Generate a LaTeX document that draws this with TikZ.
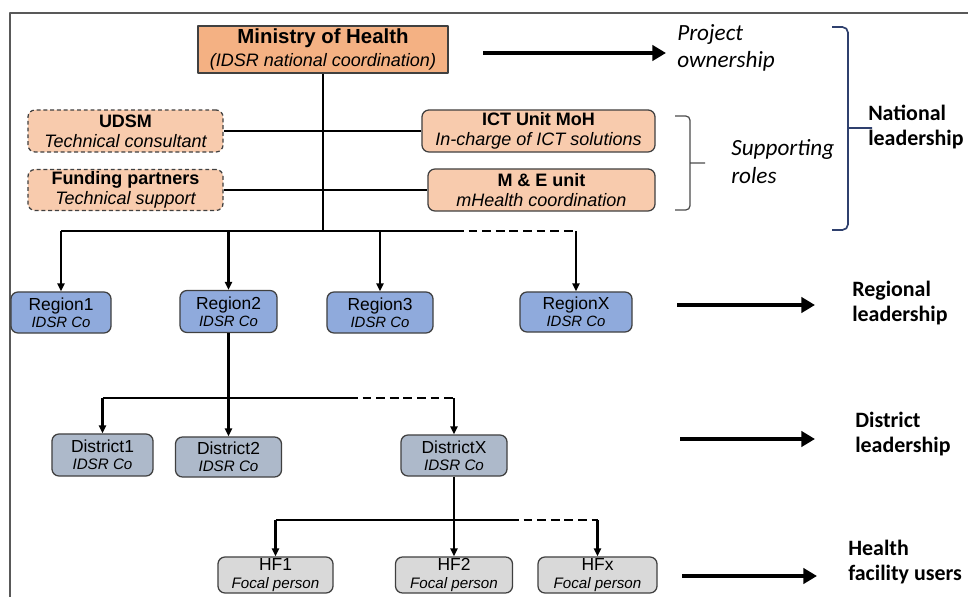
\documentclass[tikz,border=0pt]{standalone}
\usepackage{fontspec}
\setmainfont{Liberation Sans}
\newfontfamily\calibri{Carlito}
\usetikzlibrary{arrows.meta}

\definecolor{mohfill}{RGB}{244,177,131}
\definecolor{supfill}{RGB}{248,203,173}
\definecolor{regfill}{RGB}{143,170,220}
\definecolor{distfill}{RGB}{173,185,202}
\definecolor{hffill}{RGB}{217,217,217}
\definecolor{bracenavy}{RGB}{47,64,110}

\newcommand{\subreg}{\fontsize{10.6}{12}\selectfont\itshape}
\newcommand{\subdist}{\fontsize{10.8}{12.2}\selectfont\itshape}
\newcommand{\subhf}{\fontsize{10.8}{12.8}\selectfont\itshape}

\tikzset{
	tier/.style={draw=black!75, line width=0.9pt, rounded corners=5pt, align=center, inner sep=0pt},
	nat/.style={tier, fill=supfill, font=\fontsize{12.8}{14.2}\selectfont},
	ext/.style={nat, dash pattern=on 2.8pt off 2pt},
	region/.style={tier, fill=regfill, font=\fontsize{12.4}{12}\selectfont},
	district/.style={tier, fill=distfill, font=\fontsize{12.4}{12.2}\selectfont},
	facility/.style={tier, fill=hffill, font=\fontsize{12.4}{12.8}\selectfont},
	conn/.style={line width=1.9pt},
	down/.style={conn, -{Triangle[length=0.2cm,width=0.18cm]}},
	gap/.style={conn, dash pattern=on 0.22cm off 0.12cm},
	bigarrow/.style={line width=3.3pt, -{Triangle[length=0.34cm,width=0.38cm]}},
	sidelbl/.style={font=\calibri\bfseries\fontsize{15.6}{17.8}\selectfont, align=left, inner sep=0pt, anchor=west},
	sideit/.style={sidelbl, font=\calibri\itshape\fontsize{16.5}{19.5}\selectfont}
}

\begin{document}
\begin{tikzpicture}[x=0.025cm, y=-0.025cm, line join=round, >=latex]
	\useasboundingbox (0,0) rectangle (968,597);
	\draw[black!65, line width=1.2pt] (968,13) -- (10,13) -- (10,597);
	% national level
	\node[nat, sharp corners, fill=mohfill, line width=0.8pt, minimum width=6.25cm, minimum height=1.175cm, font=\fontsize{12.8}{16.4}\selectfont] (moh) at (323,49.5) {{\fontsize{14.5}{16.4}\selectfont\bfseries Ministry of Health}\\\itshape (IDSR national coordination)};
	\node[ext, minimum width=4.875cm, minimum height=1.05cm] (udsm) at (125.5,131) {{\bfseries UDSM}\\\itshape Technical consultant};
	\node[ext, minimum width=4.875cm, minimum height=1.025cm] (fund) at (125.5,190) {{\bfseries Funding partners}\\\itshape Technical support};
	\node[nat, minimum width=5.825cm, minimum height=1.05cm] (ict) at (538.5,131) {{\bfseries ICT Unit MoH}\\\itshape In-charge of ICT solutions};
	\node[nat, minimum width=5.675cm, minimum height=1.05cm] (mne) at (541.5,190) {{\bfseries M \& E unit}\\\itshape mHealth coordination};
	% regions
	\node[region, minimum width=2.5cm, minimum height=1.025cm] (r1) at (61,312.5) {Region1\\\subreg IDSR Co};
	\node[region, minimum width=2.425cm, minimum height=1.05cm] (r2) at (228.5,311.5) {Region2\\\subreg IDSR Co};
	\node[region, minimum width=2.65cm, minimum height=1.025cm] (r3) at (380,312.5) {Region3\\\subreg IDSR Co};
	\node[region, minimum width=2.8cm, minimum height=1.0cm] (rX) at (576,312) {RegionX\\\subreg IDSR Co};
	% districts
	\node[district, minimum width=2.525cm, minimum height=1.05cm] (d1) at (102.5,455) {District1\\\subdist IDSR Co};
	\node[district, minimum width=2.65cm, minimum height=1.0cm] (d2) at (228.5,457) {District2\\\subdist IDSR Co};
	\node[district, minimum width=2.65cm, minimum height=1.025cm] (dX) at (454,455.5) {DistrictX\\\subdist IDSR Co};
	% health facilities
	\node[facility, minimum width=2.875cm, minimum height=0.9cm] (hf1) at (275.5,575) {HF1\\\subhf Focal person};
	\node[facility, minimum width=2.925cm, minimum height=0.9cm] (hf2) at (454,575) {HF2\\\subhf Focal person};
	\node[facility, minimum width=2.975cm, minimum height=0.9cm] (hfx) at (597.5,575) {HFx\\\subhf Focal person};

	% tree lines
	\coordinate (rbar) at (323,231);
	\coordinate (rgap) at (455,231);
	\draw[conn] (moh) -- (rbar);
	\draw[conn] (udsm) -- (ict);
	\draw[conn] (fund) -- (mne);
	\draw[conn] (r1 |- rbar) -- (rgap);
	\draw[gap] (rgap) -- (rX |- rbar);
	\foreach \r in {r1,r2,r3,rX}{\draw[down] (\r |- rbar) -- (\r);}
	\coordinate (dbar) at (228.5,398);
	\coordinate (dgap) at (349,398);
	\draw[conn] (r2) -- (dbar);
	\draw[conn] (d1 |- dbar) -- (dgap);
	\draw[gap] (dgap) -- (dX |- dbar);
	\foreach \d in {d1,d2,dX}{\draw[down] (\d |- dbar) -- (\d);}
	\coordinate (hbar) at (454,520);
	\coordinate (hgap) at (510,520);
	\draw[conn] (dX) -- (hbar);
	\draw[conn] (hf1 |- hbar) -- (hgap);
	\draw[gap] (hgap) -- (hfx |- hbar);
	\foreach \h in {hf1,hf2,hfx}{\draw[down] (\h |- hbar) -- (\h);}

	% brackets
	\draw[black!70, line width=0.9pt, rounded corners=3pt] (675,116) -- (690,116) -- (690,210) -- (675,210) (690,163) -- (705,163);
	\draw[bracenavy, line width=1.2pt, rounded corners=4pt] (832,27) -- (848,27) -- (848,230) -- (832,230) (848,128) -- (872,128);

	% side labels
	\node[sideit] (own) at (677,48) {Project\\ownership};
	\node[sideit] (roles) at (731,161.5) {Supporting\\roles};
	\node[sidelbl] (natl) at (868,127) {National\\leadership};
	\node[sidelbl] (regl) at (852,303) {Regional\\leadership};
	\node[sidelbl] (distl) at (855,434) {District\\leadership};
	\node[sidelbl] (hfl) at (848,562) {Health\\facility users};
	\coordinate (ownA) at (483,53);
	\coordinate (reglA) at (677,305);
	\coordinate (distlA) at (680,439);
	\coordinate (hflA) at (682,576);
	\foreach \lbl/\cut in {own/0.275,regl/0.925,distl/1.0,hfl/0.775}{\draw[bigarrow, shorten >=\cut cm] (\lbl A) -- (\lbl A -| \lbl.west);}
\end{tikzpicture}
\end{document}
